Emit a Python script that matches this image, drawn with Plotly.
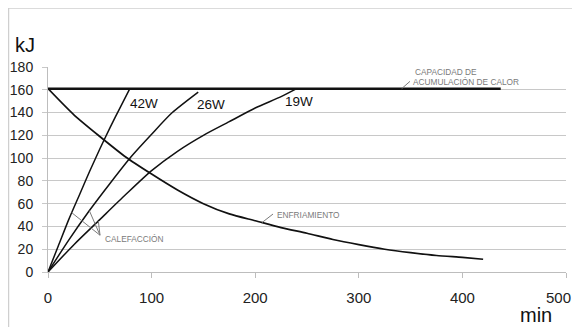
import numpy as np
import plotly.graph_objects as go

# datos (min, kJ)
t_42w = [0, 10, 20, 30, 40, 50, 60, 70, 79]
e_42w = [0, 23, 46, 67, 88, 108, 127, 145, 161]

t_26w = [0, 20, 40, 60, 80, 100, 120, 145]
e_26w = [0, 28, 54, 78, 101, 121, 140, 158]

t_19w = [0, 25, 50, 75, 100, 125, 150, 175, 200, 225, 240]
e_19w = [0, 24, 46, 68, 89, 106, 120, 132, 144, 154, 161]

t_frio = [0, 25, 50, 75, 100, 125, 150, 175, 200, 225, 250, 275, 300, 325, 350, 375, 400, 420]
e_frio = [161, 138, 119, 101, 86, 72, 60, 51, 45, 39, 34, 28.5, 24, 20, 17, 14.5, 12.8, 11.2]

t_cap = [0, 437]
e_cap = [161, 161]

x_ticks = [0, 100, 200, 300, 400, 500]
y_ticks = [0, 20, 40, 60, 80, 100, 120, 140, 160, 180]

INK = "#111111"
NOTE = "#7a7a7a"
SMALL = dict(family="Liberation Sans Narrow, Arial Narrow, Liberation Sans, sans-serif",
             size=8.3, color=NOTE)
TICKF = dict(family="Liberation Sans, Arial, sans-serif", size=15, color="#222")

fig = go.Figure()


def curve(t, e, width):
    fig.add_trace(go.Scatter(x=t, y=e, mode="lines",
                             line=dict(color=INK, width=width, shape="spline", smoothing=0.7),
                             hoverinfo="skip", showlegend=False))


curve(t_42w, e_42w, 1.5)
curve(t_26w, e_26w, 1.5)
curve(t_19w, e_19w, 1.5)
curve(t_frio, e_frio, 1.7)
curve(t_cap, e_cap, 2.5)


def leader(x0, y0, x1, y1):
    fig.add_shape(type="line", x0=x0, y0=y0, x1=x1, y1=y1, xref="x", yref="y",
                  line=dict(color=NOTE, width=1))


# CALEFACCION: tres guias hacia un punto comun
cx, cy = 50.2, 32.3
for t, e, tt in ((t_42w, e_42w, 22.9), (t_26w, e_26w, 39.9), (t_19w, e_19w, 48.6)):
    leader(tt, float(np.interp(tt, t, e)), cx, cy)
fig.add_annotation(x=53.4, y=29.4, text="CALEFACCIÓN", showarrow=False,
                   xanchor="left", yanchor="middle", font=SMALL)

# ENFRIAMIENTO
tf = 206.6
leader(tf, float(np.interp(tf, t_frio, e_frio)), 217.2, 50.9)
fig.add_annotation(x=219.1, y=50.0, text="ENFRIAMIENTO", showarrow=False,
                   xanchor="left", yanchor="middle", font=SMALL)

# CAPACIDAD
leader(341.4, e_cap[0], 349.4, 167.4)
fig.add_annotation(x=352.0, y=175.5, text="CAPACIDAD DE", showarrow=False,
                   xanchor="left", yanchor="middle", font=SMALL)
fig.add_annotation(x=350.1, y=167.1, text="ACUMULACIÓN DE CALOR", showarrow=False,
                   xanchor="left", yanchor="middle", font=SMALL)

# etiquetas de potencia
LBL = dict(family="Liberation Sans, Arial, sans-serif", size=13.5, color=INK)
for txt, x, y in (("42W", 92.4, 147.7), ("26W", 156.9, 146.9), ("19W", 242.5, 149.5)):
    fig.add_annotation(x=x, y=y, text=txt, showarrow=False, font=LBL,
                       xanchor="center", yanchor="middle")

# unidades
UNIT = dict(family="Liberation Sans, Arial, sans-serif", size=20, color=INK)
fig.add_annotation(xref="paper", yref="paper", x=-0.0444, y=1.1097, text="kJ",
                   showarrow=False, font=UNIT, xanchor="center", yanchor="middle")
fig.add_annotation(xref="paper", yref="paper", x=0.942, y=-0.2707, text="min",
                   showarrow=False, font=UNIT, xanchor="center", yanchor="bottom",
                   borderpad=0)

# la ultima etiqueta del eje x no cabe centrada: se alinea al borde derecho
x_ticktext = [str(v) for v in x_ticks[:-1]] + [""]
fig.add_annotation(x=x_ticks[-1], xref="x", yref="paper", y=-0.1238,
                   text=str(x_ticks[-1]), showarrow=False, font=TICKF,
                   xanchor="right", yanchor="middle", xshift=6, borderpad=0)

# marco gris de la figura (lados izquierdo y superior)
FRAME = dict(color="#cfcfcf", width=1.5)
fig.add_shape(type="line", xref="paper", yref="paper",
              x0=-0.0763, y0=-0.35, x1=-0.0763, y1=1.288, line=FRAME, layer="below")
fig.add_shape(type="line", xref="paper", yref="paper",
              x0=-0.0763, y0=1.288, x1=1.05, y1=1.288, line=FRAME, layer="below")

# el body de la pagina tiene 8 px de margen: figura desplazada y sin desbordar
fig.update_layout(
    width=564, height=319,
    margin=dict(l=40, r=6, t=59.4, b=55.3, autoexpand=False),
    paper_bgcolor="white", plot_bgcolor="white",
    font=dict(family="Liberation Sans, Arial, sans-serif", color=INK),
    xaxis=dict(range=[0, 500], tickvals=x_ticks, ticktext=x_ticktext,
               showgrid=False, zeroline=False,
               showline=True, linecolor="#bdbdbd", linewidth=1, automargin=False,
               ticks="outside", ticklen=5, tickcolor="#bdbdbd",
               ticklabelstandoff=7, tickfont=TICKF),
    yaxis=dict(range=[0, 180], tickvals=y_ticks, showgrid=True,
               gridcolor="#c8c8c8", gridwidth=1, zeroline=False, automargin=False,
               showline=True, linecolor="#bdbdbd", linewidth=1,
               ticks="outside", ticklen=5, tickcolor="#c8c8c8",
               ticklabelstandoff=6, tickfont=dict(size=14, color="#222")),
)

fig.write_html("out.html")
